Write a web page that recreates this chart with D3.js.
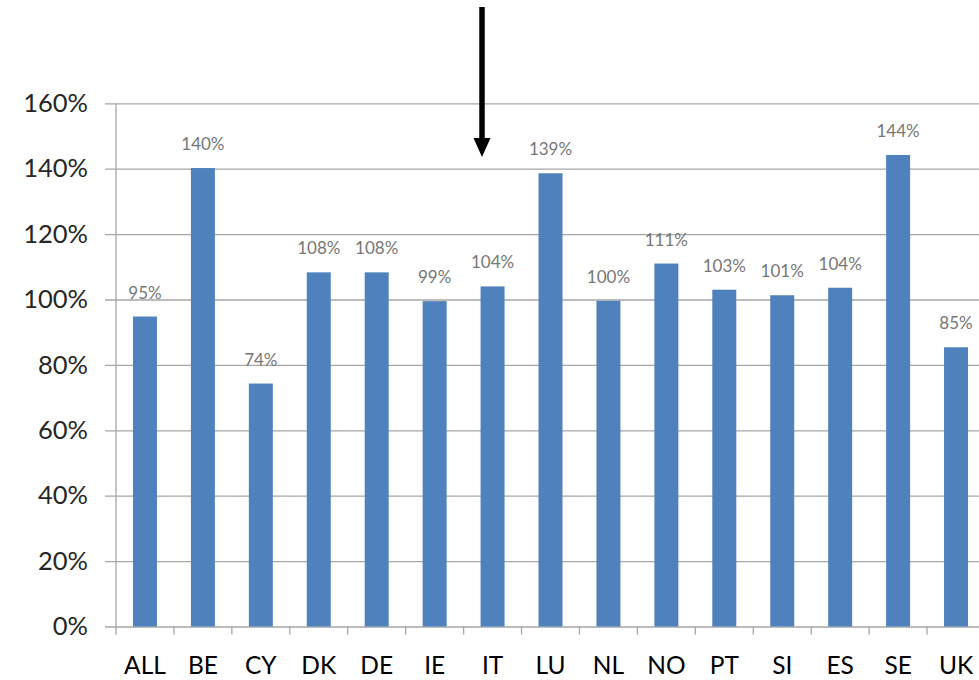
<!DOCTYPE html>
<html>
<head>
<meta charset="utf-8">
<script src="https://cdn.jsdelivr.net/npm/d3@7"></script>
<style>
  body { margin: 0; background: #fff; }
  svg { display: block; font-family: Lato, "Open Sans", sans-serif; }
</style>
</head>
<body>
<div id="chart"></div>
<script>
// data
var countries = ["ALL", "BE", "CY", "DK", "DE", "IE", "IT", "LU", "NL", "NO", "PT", "SI", "ES", "SE", "UK"];
var values = [94.8, 140.2, 74.3, 108.3, 108.3, 99.5, 104, 138.6, 99.6, 111, 103, 101.3, 103.6, 144.2, 85.4];
var valueLabels = ["95%", "140%", "74%", "108%", "108%", "99%", "104%", "139%", "100%", "111%", "103%", "101%", "104%", "144%", "85%"];
var yTicks = [0, 20, 40, 60, 80, 100, 120, 140, 160];

var outerWidth = 979, outerHeight = 680;
var plot = {left: 116, right: 985, top: 103.3, bottom: 626.5};

var svg = d3.select("#chart").append("svg")
    .attr("width", outerWidth)
    .attr("height", outerHeight);

var xScale = d3.scaleBand()
    .domain(countries)
    .range([plot.left, plot.right])
    .paddingInner(0.586)
    .paddingOuter(0.293);

var yScale = d3.scaleLinear()
    .domain([0, 160])
    .range([plot.bottom, plot.top]);

// gridlines + y labels
var yAxis = d3.axisLeft(yScale)
    .tickValues(yTicks)
    .tickSize(-(outerWidth - plot.left + 20))
    .tickPadding(28)
    .tickFormat(function(d) { return d + "%"; });

var gy = svg.append("g")
    .attr("transform", "translate(" + plot.left + ",0)")
    .call(yAxis);

gy.select(".domain").remove();
gy.selectAll(".tick line")
    .attr("x1", -11)
    .attr("stroke", "#a6a6a6")
    .attr("stroke-width", 1.3);
gy.selectAll(".tick text")
    .attr("fill", "#262626")
    .style("font-size", "25.5px")
    .style("font-family", "Lato, 'Open Sans', sans-serif");

// vertical axis line
svg.append("line")
    .attr("x1", plot.left).attr("x2", plot.left)
    .attr("y1", plot.top).attr("y2", plot.bottom + 8)
    .attr("stroke", "#a6a6a6")
    .attr("stroke-width", 1.3);

// bars
svg.selectAll("rect.bar")
    .data(values)
    .enter().append("rect")
    .attr("class", "bar")
    .attr("x", function(d, i) { return xScale(countries[i]); })
    .attr("width", xScale.bandwidth())
    .attr("y", function(d) { return yScale(d); })
    .attr("height", function(d) { return yScale(0) - yScale(d); })
    .attr("fill", "#4f81bd");

// value labels
svg.selectAll("text.val")
    .data(values)
    .enter().append("text")
    .attr("class", "val")
    .attr("x", function(d, i) { return xScale(countries[i]) + xScale.bandwidth() / 2; })
    .attr("y", function(d) { return yScale(d) - 18; })
    .attr("text-anchor", "middle")
    .attr("fill", "#767676")
    .style("font-size", "17px")
    .text(function(d, i) { return valueLabels[i]; });

// category axis
var xAxis = d3.axisBottom(xScale).tickSize(0).tickPadding(30);
var gx = svg.append("g")
    .attr("transform", "translate(0," + plot.bottom + ")")
    .call(xAxis);
gx.select(".domain").remove();
gx.selectAll(".tick text")
    .attr("fill", "#000")
    .style("font-size", "24.5px")
    .style("font-family", "Lato, 'Open Sans', sans-serif");

// ticks between categories
svg.selectAll("line.sep")
    .data(countries.slice(1))
    .enter().append("line")
    .attr("class", "sep")
    .attr("x1", function(d) { return xScale(d) - xScale.step() * xScale.paddingInner() / 2; })
    .attr("x2", function(d) { return xScale(d) - xScale.step() * xScale.paddingInner() / 2; })
    .attr("y1", plot.bottom)
    .attr("y2", plot.bottom + 8)
    .attr("stroke", "#a6a6a6")
    .attr("stroke-width", 1.3);

// annotation arrow
svg.append("line")
    .attr("x1", 482).attr("x2", 482)
    .attr("y1", 7).attr("y2", 140)
    .attr("stroke", "#000")
    .attr("stroke-width", 5.5);
svg.append("path")
    .attr("d", "M473.5,138 L490.5,138 L482,157 Z")
    .attr("fill", "#000");
</script>
</body>
</html>
